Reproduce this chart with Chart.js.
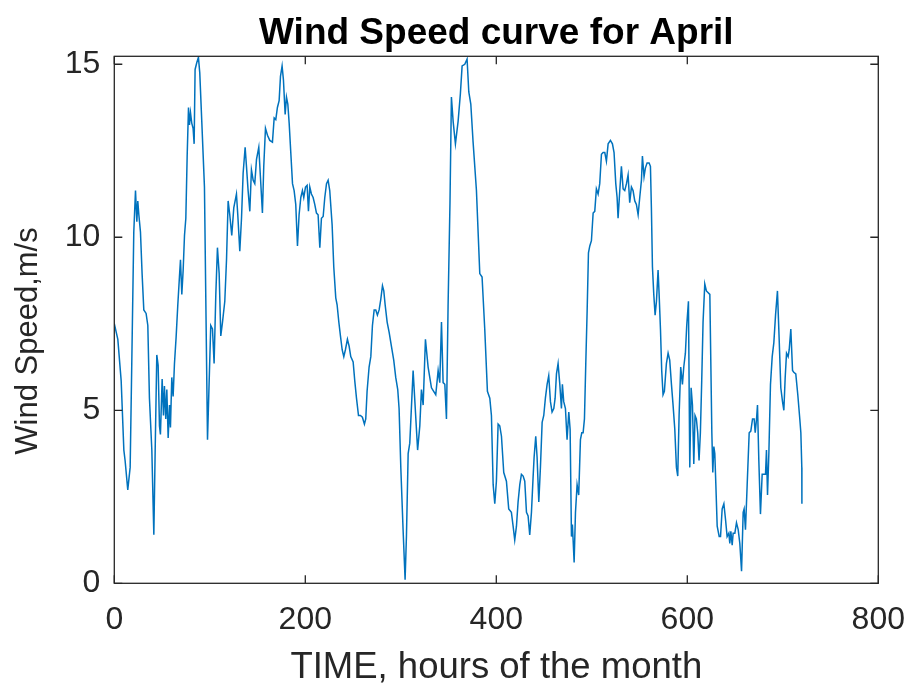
<!DOCTYPE html>
<html>
<head>
    <title>Wind Speed curve for April</title>
    <style>
        body {
            margin: 0;
            background: #ffffff;
        }
        #wind-chart {
            display: block;
        }
    </style>
</head>
<body>
    <canvas id="wind-chart" width="912" height="691"></canvas>

    <script src="https://cdn.jsdelivr.net/npm/chart.js"></script>

    <script>
        // Hour of the month and measured wind speed (m/s) at that hour
        const hours = [
            0, 3.7, 7.2, 10, 11.3, 14.1, 16.6, 18.3, 20.4, 22.2, 23.6, 24.6, 25.7, 27.4, 29.1, 30.9,
            33.3, 35.1, 36.8, 39.3, 41.4, 42.8, 44.5, 45.9, 47.3, 48.3, 50.1, 51.5, 52.5, 53.9, 55,
            56.4, 57.8, 58.8, 60.2, 61.6, 63, 64.7, 66.5, 68.2, 69.3, 70.7, 72.1, 73.5, 74.9, 76.3,
            77.7, 78.7, 79.8, 81.1, 82.5, 83.6, 84.6, 86.4, 88.1, 89.5, 91.6, 94.4, 96.2, 97.6,
            101, 102.8, 104.5, 106.3, 108, 109.8, 111.5, 113.3, 115.7, 117.5, 119.2, 120.9, 123,
            125.1, 127.9, 129.3, 131.4, 133.2, 134.9, 137, 138.4, 140.1, 141.9, 143.6, 145.4, 147.1,
            148.9, 151.3, 153, 155.1, 156.5, 158.3, 160.4, 162.8, 165.6, 167.4, 169.1, 170.8, 172.6,
            174, 175.7, 177.1, 178.9, 180.3, 181.7, 183.1, 184.8, 186.6, 188.3, 190, 191.8, 193.5,
            195.3, 197, 198.4, 200.2, 201.9, 203.3, 204.7, 206.4, 208.2, 209.9, 211.7, 213.4, 215.2,
            216.9, 218.7, 220.4, 222.2, 223.9, 225.6, 228.1, 229.8, 231.9, 233.3, 235.1, 236.8,
            238.6, 240.3, 242, 244.1, 245.9, 247.6, 250.1, 251.8, 253.6, 255.7, 257.7, 259.8, 261.9,
            263.3, 264.7, 266.8, 268.6, 270.3, 272.1, 273.8, 275.5, 277.3, 279, 280.8, 282.2, 283.6,
            285.7, 287.8, 290.2, 292.6, 294.7, 296.8, 298.2, 300, 302.4, 304.5, 305.9, 307.7, 309.4,
            312.9, 317.6, 319.9, 321.6, 323.4, 325.8, 328.6, 332.1, 336.6, 339.1, 340.8, 342.6,
            344.3, 346.1, 347.8, 349.5, 351.5, 353, 354.8, 357.2, 360, 362.4, 364.2, 367, 369.4,
            371.2, 373.3, 375.7, 379.2, 382.7, 385.1, 387.9, 390.7, 393.2, 394.9, 396.7, 398.4,
            400.1, 401.9, 403.6, 405.4, 407.8, 410.6, 413, 415.8, 417.6, 419.3, 421.1, 422.8, 424.6,
            426.3, 428.1, 429.8, 431.6, 433.3, 435, 436.8, 438.5, 439.6, 441.3, 442.7, 444.5, 446.2,
            448, 449.7, 451.4, 453.2, 454.9, 456.7, 458.4, 460.2, 461.6, 463, 464.7, 466.5, 468.2,
            469.2, 470.6, 472.4, 474.1, 475.9, 477.3, 478.7, 479.7, 481.5, 482.9, 484.6, 486.3,
            488.1, 489.5, 490.9, 492.3, 493.7, 495.1, 496.5, 497.9, 499.6, 501.4, 503.1, 504.8,
            506.6, 508.3, 510.1, 511.8, 513.6, 515.3, 517.1, 519.5, 521.6, 523.3, 525.1, 526.5,
            527.5, 529.3, 531, 532.8, 534.5, 536.3, 538, 539.7, 541.5, 543.2, 545, 546.7, 548.5,
            550.2, 552, 553, 554.7, 556.1, 557.9, 560, 561.4, 562.4, 563.5, 564.9, 566.3, 567.7,
            569.4, 570.5, 571.9, 573.2, 574.6, 576, 578.1, 579.9, 581.6, 583.4, 585.1, 586.9, 588.6,
            590, 591.4, 593.1, 594.9, 596.3, 598, 599.4, 601.2, 602.6, 604, 605.4, 606.8, 608.1,
            609.5, 610.9, 612.3, 613.7, 615.1, 616.5, 618.3, 620, 623.6, 625.7, 626.7, 627.8, 628.8,
            629.9, 631.3, 633.4, 634.8, 636.5, 638.3, 640, 641.7, 643.5, 644.5, 645.6, 647, 648,
            649.8, 651.5, 653.3, 655, 656.8, 658.5, 659.5, 660.9, 662.7, 664.8, 666.5, 668.3, 670,
            671.1, 672.5, 673.5, 674.9, 676.6, 678.4, 680.1, 681.9, 682.9, 684, 685.4, 687.1, 688.9,
            690.6, 692.4, 694.4, 696.2, 697.9, 699.7, 701.1, 702.5, 703.9, 705.6, 706.7, 708.4,
            710.2, 711.5, 713.6, 715.7, 717.8, 718.9, 719.9, 720
        ];
        const windSpeed = [
            7.5, 7.05, 5.85, 3.85, 3.55, 2.7, 3.35, 6.35, 10.15, 11.35, 10.45, 11.05, 10.65, 10.15, 8.95, 7.9,
            7.8, 7.45, 5.35, 3.85, 1.4, 3.85, 6.6, 6.3, 4.55, 4.3, 5.9, 4.85, 5.7, 4.75, 5.6,
            4.2, 5.15, 4.5, 5.95, 5.4, 6.35, 7.1, 8.05, 8.85, 9.35, 8.35, 9.05, 10.05, 10.55, 12.35,
            13.75, 13.25, 13.6, 13.3, 13.15, 12.7, 14.85, 15.05, 15.2, 14.75, 13.35, 11.45, 7.35, 4.15,
            7.45, 7.35, 6.35, 8.35, 9.7, 8.95, 7.15, 7.55, 8.15, 9.35, 11.05, 10.65, 10.05,
            10.85, 11.25, 10.65, 9.6, 10.55, 11.85, 12.6, 12.05, 11.35, 10.75, 11.95, 11.65, 11.55,
            12.25, 12.6, 11.75, 10.7, 12.05, 13.15, 12.95, 12.8, 12.75, 13.45, 13.4, 13.75, 13.95,
            14.65, 14.95, 14.55, 13.55, 14.05, 13.85, 13.3, 12.45, 11.55, 11.35, 10.95, 9.75, 10.65,
            11.15, 11.35, 11.15, 11.45, 11.5, 10.75, 11.45, 11.25, 11.15, 10.95, 10.7, 10.65, 9.7,
            10.55, 10.6, 11.15, 11.55, 11.65, 11.35, 10.35, 9.15, 8.25, 8.05, 7.55, 7.15,
            6.75, 6.55, 6.75, 7.05, 6.85, 6.55, 6.4, 5.85, 5.35, 4.85, 4.85, 4.8, 4.6,
            4.75, 5.55, 6.25, 6.55, 7.45, 7.9, 7.9, 7.75, 7.9, 8.2, 8.6, 8.45, 8.05,
            7.55, 7.25, 6.85, 6.45, 5.95, 5.6, 5.05, 3.35, 1.55, 0.1, 1.35, 3.75, 4.05,
            6.15, 3.85, 4.55, 5.6, 5.15, 7.05, 6.25, 5.65, 5.45, 6.15, 5.8, 7.55,
            5.8, 5.75, 4.75, 8.0, 11.0, 14.05, 13.35, 12.7, 13.35, 14.15, 14.95, 15.0, 15.15,
            14.2, 13.85, 12.75, 11.35, 8.95, 8.85, 7.35, 5.55, 5.35, 4.85, 2.85, 2.3,
            2.95, 4.6, 4.55, 4.25, 3.2, 2.95, 2.15, 2.05, 1.65, 1.25, 1.65, 2.35, 2.85,
            3.15, 3.1, 2.95, 2.05, 1.95, 1.4, 2.05, 3.05, 3.65, 4.25, 3.65, 2.35, 3.35,
            4.65, 4.85, 5.35, 5.75, 6.0, 5.25, 4.95, 5.05, 5.35, 6.05, 6.35, 5.75, 5.05,
            5.75, 5.25, 5.05, 4.15, 4.95, 4.45, 1.35, 1.7, 0.6, 2.05, 2.85, 2.55,
            4.15, 4.35, 4.35, 4.75, 6.35, 7.85, 9.55, 9.75, 9.9, 10.7, 10.75, 11.4,
            11.25, 11.55, 12.4, 12.45, 12.45, 12.2, 12.7, 12.8, 12.7, 12.45, 11.55, 11.15,
            10.55, 11.35, 12.05, 11.4, 11.35, 11.55, 11.8, 11.0, 11.45, 11.35, 11.05, 10.95, 10.65,
            11.15, 11.65, 12.35, 11.75, 12.0, 12.15, 12.15, 12.05, 10.85, 9.15, 8.35, 7.75, 8.15,
            9.05, 8.35, 7.35, 6.15, 5.45, 5.55, 6.35, 6.65, 6.45, 5.75, 5.15, 4.45, 3.35,
            3.1, 4.85, 6.25, 5.75, 6.25, 6.65, 7.45, 8.15, 3.35, 5.65, 5.15, 3.45, 4.85,
            4.75, 4.35, 3.55, 4.35, 5.85, 7.55, 8.65, 8.45, 8.35, 4.35, 3.2, 3.95, 3.75,
            2.85, 1.65, 1.35, 1.35, 2.15, 2.3, 1.85, 1.35, 1.45, 1.15, 1.5, 1.1, 1.45,
            1.45, 1.75, 1.55, 1.15, 0.35, 2.05, 2.15, 1.55, 2.85, 4.35, 4.4, 4.75, 4.75,
            4.35, 4.75, 5.15, 3.55, 2.0, 3.15, 3.15, 3.15, 3.85, 2.55, 3.75, 5.75, 6.55,
            6.95, 7.75, 8.45, 7.05, 5.65, 5.25, 5.0, 5.95, 6.65, 6.55, 6.75, 7.35,
            6.15, 6.1, 6.05, 5.45, 4.75, 4.35, 3.35, 2.3
        ];

        const xTicks = [0, 200, 400, 600, 800];
        const yTicks = [0, 5, 10, 15];

        const axisColor = '#262626';
        const fontFamily = '"Liberation Sans", Arial, sans-serif';

        // Box around the plot with short inward tick marks on every side
        const boxPlugin = {
            id: 'box',
            afterDatasetsDraw(chart) {
                const { ctx, chartArea, scales } = chart;
                const tickLen = 8;
                ctx.save();
                ctx.strokeStyle = axisColor;
                ctx.lineWidth = 1.3;
                ctx.beginPath();
                xTicks.forEach(v => {
                    const px = scales.x.getPixelForValue(v);
                    ctx.moveTo(px, chartArea.bottom);
                    ctx.lineTo(px, chartArea.bottom - tickLen);
                    ctx.moveTo(px, chartArea.top);
                    ctx.lineTo(px, chartArea.top + tickLen);
                });
                yTicks.forEach(v => {
                    const py = scales.y.getPixelForValue(v);
                    ctx.moveTo(chartArea.left, py);
                    ctx.lineTo(chartArea.left + tickLen, py);
                    ctx.moveTo(chartArea.right, py);
                    ctx.lineTo(chartArea.right - tickLen, py);
                });
                ctx.stroke();
                ctx.strokeRect(chartArea.left, chartArea.top,
                    chartArea.right - chartArea.left, chartArea.bottom - chartArea.top);
                ctx.restore();
            }
        };

        // Rotated y axis label, sitting a little below the middle of the axis
        const yLabelPlugin = {
            id: 'yLabel',
            afterDraw(chart) {
                const ctx = chart.ctx;
                ctx.save();
                ctx.translate(28, 341);
                ctx.rotate(-Math.PI / 2);
                ctx.font = '31px ' + fontFamily;
                ctx.fillStyle = axisColor;
                ctx.textAlign = 'center';
                ctx.textBaseline = 'middle';
                ctx.fillText('Wind Speed,m/s', 0, 0);
                ctx.restore();
            }
        };

        const points = hours.map((h, i) => ({ x: h, y: windSpeed[i] }));

        new Chart(document.getElementById('wind-chart'), {
            type: 'line',
            data: {
                datasets: [{
                    data: points,
                    borderColor: '#0072BD',
                    borderWidth: 1.5,
                    pointRadius: 0,
                    tension: 0,
                    fill: false
                }]
            },
            options: {
                responsive: false,
                animation: false,
                layout: {
                    padding: { left: 0, right: 33.7, top: 0, bottom: 0 }
                },
                plugins: {
                    legend: { display: false },
                    tooltip: { enabled: false },
                    title: {
                        display: true,
                        fullSize: false,
                        text: 'Wind Speed curve for April',
                        color: '#000000',
                        font: { family: fontFamily, size: 37, weight: 'bold' },
                        padding: { top: 11.8, bottom: 0.1 }
                    }
                },
                scales: {
                    x: {
                        type: 'linear',
                        min: 0,
                        max: 800,
                        afterBuildTicks: scale => {
                            scale.ticks = xTicks.map(v => ({ value: v }));
                        },
                        afterFit: scale => {
                            scale.height = 107.7;
                            scale.paddingLeft = 0;
                            scale.paddingRight = 0;
                        },
                        grid: { display: false, drawTicks: false },
                        border: { display: false },
                        ticks: {
                            color: axisColor,
                            font: { family: fontFamily, size: 32 },
                            padding: 18,
                            maxRotation: 0
                        },
                        title: {
                            display: true,
                            text: 'TIME, hours of the month',
                            color: axisColor,
                            font: { family: fontFamily, size: 36.5 },
                            padding: { top: 0, bottom: 1.5 }
                        }
                    },
                    y: {
                        min: 0,
                        max: 15.23,
                        afterBuildTicks: scale => {
                            scale.ticks = yTicks.map(v => ({ value: v }));
                        },
                        afterFit: scale => {
                            scale.width = 114.3;
                            scale.paddingTop = 0;
                            scale.paddingBottom = 0;
                        },
                        grid: { display: false, drawTicks: false },
                        border: { display: false },
                        ticks: {
                            color: axisColor,
                            font: { family: fontFamily, size: 32 },
                            padding: 14
                        }
                    }
                }
            },
            plugins: [boxPlugin, yLabelPlugin]
        });
    </script>
</body>
</html>
